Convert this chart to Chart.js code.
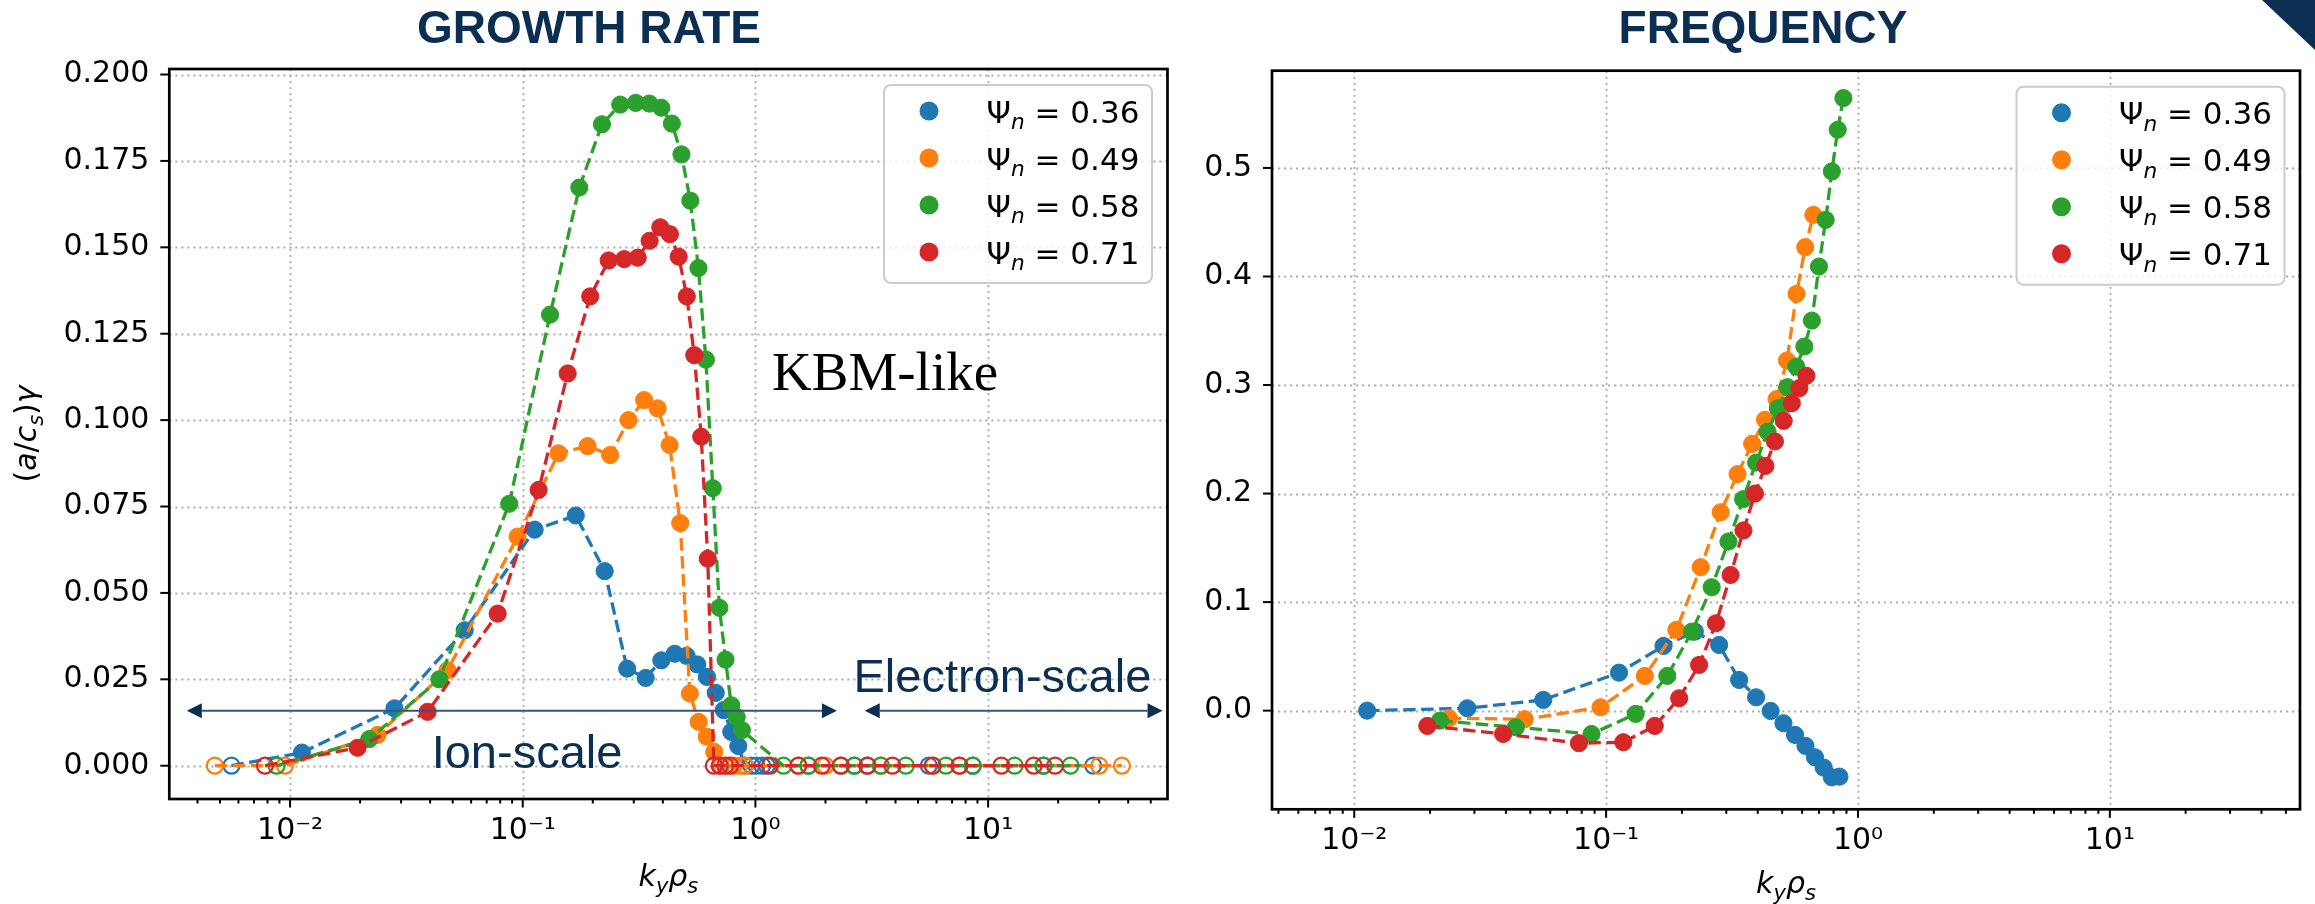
<!DOCTYPE html>
<html lang="en">
<head>
<meta charset="UTF-8" />
<title>Growth rate and frequency</title>
<script src="https://cdn.jsdelivr.net/npm/chart.js"></script>
<style>
  html, body { margin: 0; padding: 0; background: #fff; }
  body { width: 2315px; height: 904px; position: relative; overflow: hidden; }
  canvas { position: absolute; top: 0; }
  #growth { left: 0; }
  #freq { left: 1200px; }
  .ptitle {
    position: absolute; top: 4px; transform: translateX(-50%);
    font-family: "Liberation Sans", Arial, sans-serif; font-weight: bold;
    font-size: 46px; line-height: 46px; color: #0b2f52; white-space: nowrap;
  }
  #corner {
    position: absolute; top: 0; right: 0; width: 53px; height: 50px;
    background: #0b2f52; clip-path: polygon(0 0, 100% 0, 100% 100%);
  }
</style>
</head>
<body>
<canvas id="growth" width="1200" height="904"></canvas>
<canvas id="freq" width="1115" height="904"></canvas>
<div class="ptitle" style="left:589px">GROWTH RATE</div>
<div class="ptitle" style="left:1763px">FREQUENCY</div>
<div id="corner"></div>

<script>
  // ---- data ----
  const seriesLabels = ['0.36', '0.49', '0.58', '0.71'];
  const seriesColors = ['#1f77b4', '#ff7f0e', '#2ca02c', '#d62728'];

  // Psi_n = 0.36
  const ky036 = [0.01125, 0.0281, 0.0563, 0.1125, 0.169, 0.225, 0.281, 0.3375, 0.394, 0.45, 0.506, 0.5625, 0.619, 0.675, 0.731, 0.7875, 0.844];
  const gamma036 = [0.0038, 0.0166, 0.0392, 0.0683, 0.0724, 0.0563, 0.0281, 0.0254, 0.0305, 0.0324, 0.0318, 0.0293, 0.0257, 0.0211, 0.0161, 0.0098, 0.0057];
  const omega036 = [0.000, 0.0022, 0.0099, 0.035, 0.0596, 0.0728, 0.0605, 0.0283, 0.0123, -0.0003, -0.0116, -0.0224, -0.0325, -0.043, -0.0525, -0.0614, -0.0608];
  const kyStable036 = [0.0056, 0.9, 0.96, 1.01, 1.07, 1.12, 1.69, 2.66, 3.03, 5.56, 8.59, 17.3, 28.3];

  // Psi_n = 0.49
  const ky049 = [0.02375, 0.0475, 0.095, 0.1425, 0.19, 0.2375, 0.285, 0.3325, 0.38, 0.4275, 0.475, 0.5225, 0.57, 0.6175, 0.665];
  const gamma049 = [0.0089, 0.0276, 0.0663, 0.0904, 0.0925, 0.0899, 0.100, 0.1058, 0.1034, 0.0928, 0.0702, 0.0209, 0.0127, 0.0084, 0.0040];
  const omega049 = [-0.0070, -0.0079, 0.0031, 0.032, 0.0744, 0.1322, 0.1828, 0.218, 0.2458, 0.268, 0.287, 0.3226, 0.384, 0.427, 0.4568];
  const kyStable049 = [0.00475, 0.0095, 0.7125, 0.76, 0.8075, 0.855, 0.9025, 1.53, 2.0, 3.46, 5.78, 7.53, 30, 37.6];

  // Psi_n = 0.58
  const ky058 = [0.0219, 0.0438, 0.0875, 0.131, 0.175, 0.219, 0.2625, 0.306, 0.35, 0.394, 0.4375, 0.481, 0.525, 0.569, 0.6125, 0.656, 0.70, 0.744, 0.7875, 0.831, 0.875];
  const gamma058 = [0.0077, 0.025, 0.0758, 0.1305, 0.1673, 0.1856, 0.1913, 0.1918, 0.1916, 0.1904, 0.1858, 0.1769, 0.1635, 0.144, 0.1175, 0.0803, 0.0457, 0.0307, 0.0175, 0.0141, 0.0103];
  const omega058 = [-0.0092, -0.0153, -0.0215, -0.003, 0.032, 0.0728, 0.1137, 0.1558, 0.1948, 0.2286, 0.257, 0.2787, 0.298, 0.317, 0.3355, 0.3594, 0.4092, 0.4522, 0.4968, 0.5352, 0.5644];
  const kyStable058 = [0.00875, 1.32, 1.69, 2.33, 2.66, 3.46, 4.43, 6.59, 8.59, 13.0, 17.3, 22.6];

  // Psi_n = 0.71
  const ky071 = [0.0195, 0.039, 0.078, 0.117, 0.156, 0.195, 0.234, 0.273, 0.312, 0.351, 0.39, 0.429, 0.468, 0.507, 0.546, 0.585, 0.624];
  const gamma071 = [0.0052, 0.0156, 0.044, 0.0798, 0.1135, 0.1358, 0.1462, 0.1466, 0.147, 0.1519, 0.1558, 0.1538, 0.1473, 0.1358, 0.1188, 0.0952, 0.0599];
  const omega071 = [-0.0141, -0.0215, -0.030, -0.0291, -0.0141, 0.0114, 0.0421, 0.0805, 0.125, 0.166, 0.200, 0.2255, 0.248, 0.267, 0.2833, 0.2971, 0.3085];
  const kyStable071 = [0.0078, 0.663, 0.702, 0.741, 0.78, 1.155, 1.53, 1.93, 2.33, 3.03, 3.88, 5.78, 7.53, 11.4, 15.7, 19.4];

  const growthTicks = [0, 0.025, 0.05, 0.075, 0.1, 0.125, 0.15, 0.175, 0.2];
  const freqTicks = [0, 0.1, 0.2, 0.3, 0.4, 0.5];

  const kySets = [ky036, ky049, ky058, ky071];
  const gammaSets = [gamma036, gamma049, gamma058, gamma071];
  const omegaSets = [omega036, omega049, omega058, omega071];
  const stableSets = [kyStable036, kyStable049, kyStable058, kyStable071];

  // ---- helpers ----
  const SUP = { '-': '\u207B', '0': '\u2070', '1': '\u00B9', '2': '\u00B2', '3': '\u00B3' };
  function powLabel(v) {
    const e = Math.round(Math.log10(v));
    if (Math.abs(v - Math.pow(10, e)) / v > 1e-6) return '';
    return '10' + String(e).split('').map(c => SUP[c]).join('');
  }

  function logTicks(min, max) {
    const out = [];
    for (let d = -4; d <= 2; d++) {
      for (let m = 1; m <= 9; m++) {
        const v = m * Math.pow(10, d);
        if (v >= min && v <= max) out.push({ value: v, major: m === 1 });
      }
    }
    return out;
  }

  // draw a mathtext-like run of pieces: {t, i (italic), sub}
  function drawMath(ctx, parts, x, y, size, align) {
    const fnt = p => (p.i ? 'italic ' : '') + (p.sub ? size * 0.7 : size) + 'px "DejaVu Sans"';
    let w = 0;
    parts.forEach(p => { ctx.font = fnt(p); p.w = ctx.measureText(p.t).width; w += p.w; });
    let cx = align === 'center' ? x - w / 2 : x;
    ctx.textAlign = 'left';
    ctx.textBaseline = 'alphabetic';
    parts.forEach(p => {
      ctx.font = fnt(p);
      ctx.fillText(p.t, cx, y + (p.sub ? size * 0.22 : 0));
      cx += p.w;
    });
  }

  function arrow(ctx, x1, x2, y) {
    const hl = 15, hh = 7.5;
    ctx.strokeStyle = '#35577a';
    ctx.lineWidth = 2;
    ctx.beginPath(); ctx.moveTo(x1 + hl, y); ctx.lineTo(x2 - hl, y); ctx.stroke();
    ctx.fillStyle = '#0b2f52';
    ctx.beginPath(); ctx.moveTo(x1, y); ctx.lineTo(x1 + hl, y - hh); ctx.lineTo(x1 + hl, y + hh); ctx.closePath(); ctx.fill();
    ctx.beginPath(); ctx.moveTo(x2, y); ctx.lineTo(x2 - hl, y - hh); ctx.lineTo(x2 - hl, y + hh); ctx.closePath(); ctx.fill();
  }

  // grid, frame, ticks, legend drawn with the chart's own scales
  const axesDecor = {
    id: 'axesDecor',
    beforeDatasetsDraw(chart) {
      const { ctx, chartArea: a, scales: { x, y } } = chart;
      ctx.save();
      ctx.strokeStyle = '#b0b0b0';
      ctx.lineWidth = 1.8;
      ctx.setLineDash([2.2, 3.8]);
      x.ticks.filter(t => t.major).forEach(t => {
        const px = Math.round(x.getPixelForValue(t.value)) + 0.5;
        ctx.beginPath(); ctx.moveTo(px, a.top); ctx.lineTo(px, a.bottom); ctx.stroke();
      });
      y.ticks.forEach(t => {
        const py = Math.round(y.getPixelForValue(t.value)) + 0.5;
        ctx.beginPath(); ctx.moveTo(a.left, py); ctx.lineTo(a.right, py); ctx.stroke();
      });
      ctx.restore();
    },
    afterDatasetsDraw(chart, args, opts) {
      const { ctx, chartArea: a, scales: { x, y } } = chart;
      ctx.save();
      // tick marks
      ctx.strokeStyle = '#000';
      ctx.lineWidth = 2;
      x.ticks.forEach(t => {
        const px = x.getPixelForValue(t.value);
        const len = t.major ? 8.5 : 4.5;
        ctx.beginPath(); ctx.moveTo(px, a.bottom); ctx.lineTo(px, a.bottom + len); ctx.stroke();
      });
      y.ticks.forEach(t => {
        const py = y.getPixelForValue(t.value);
        ctx.beginPath(); ctx.moveTo(a.left, py); ctx.lineTo(a.left - 9, py); ctx.stroke();
      });
      // frame
      ctx.lineWidth = 2.7;
      ctx.strokeRect(a.left, a.top, a.right - a.left, a.bottom - a.top);

      // legend
      const w = 268, h = 198;
      const bx = a.right - 15.5 - w, by = a.top + 16;
      ctx.beginPath();
      ctx.roundRect(bx, by, w, h, 7);
      ctx.fillStyle = 'rgba(255,255,255,0.8)';
      ctx.fill();
      ctx.strokeStyle = '#cccccc';
      ctx.lineWidth = 2;
      ctx.stroke();
      seriesLabels.forEach((lab, i) => {
        const cy = by + 26 + i * 47;
        ctx.fillStyle = seriesColors[i];
        ctx.beginPath(); ctx.arc(bx + 45, cy, 9.5, 0, Math.PI * 2); ctx.fill();
        ctx.fillStyle = '#000';
        drawMath(ctx, [{ t: '\u03A8' }, { t: 'n', i: true, sub: true }, { t: ' = ' + lab }], bx + 102.5, cy + 11.5, 31, 'left');
      });

      // x axis label
      ctx.fillStyle = '#000';
      drawMath(ctx, [{ t: 'k', i: true }, { t: 'y', i: true, sub: true }, { t: '\u03C1', i: true }, { t: 's', i: true, sub: true }],
        (a.left + a.right) / 2, opts.xLabelY, 30, 'center');

      if (opts.ylabel) {
        ctx.save();
        ctx.translate(36, (a.top + a.bottom) / 2);
        ctx.rotate(-Math.PI / 2);
        drawMath(ctx, [{ t: '(' }, { t: 'a', i: true }, { t: '/' }, { t: 'c', i: true }, { t: 's', i: true, sub: true }, { t: ')' }, { t: '\u03B3', i: true }],
          0, 0, 30, 'center');
        ctx.restore();
      }

      if (opts.annotate) {
        const ya = y.getPixelForValue(0.0159);
        arrow(ctx, x.getPixelForValue(0.0036), x.getPixelForValue(2.24), ya);
        arrow(ctx, x.getPixelForValue(2.95), x.getPixelForValue(56.2), ya);
        ctx.fillStyle = '#0b2f52';
        ctx.font = '47px "Liberation Sans", Arial, sans-serif';
        ctx.textAlign = 'left';
        ctx.textBaseline = 'alphabetic';
        ctx.fillText('Ion-scale', x.getPixelForValue(0.0406), y.getPixelForValue(-0.0007));
        ctx.fillText('Electron-scale', x.getPixelForValue(2.64), y.getPixelForValue(0.0214));
        ctx.fillStyle = '#000';
        ctx.font = '55px "Liberation Serif", "Times New Roman", serif';
        ctx.fillText('KBM-like', x.getPixelForValue(1.178), y.getPixelForValue(0.1087));
      }
      ctx.restore();
    }
  };

  function isHollow(c, kind) {
    return kind === 'growth' && c.raw && c.raw.y === 0;
  }

  function makeDatasets(kind) {
    return seriesLabels.map((lab, i) => {
      const color = seriesColors[i];
      let pts = kySets[i].map((k, j) => ({ x: k, y: kind === 'growth' ? gammaSets[i][j] : omegaSets[i][j] }));
      if (kind === 'growth') {
        pts = pts.concat(stableSets[i].map(k => ({ x: k, y: 0 }))).sort((p, q) => p.x - q.x);
      }
      return {
        label: '\u03A8n = ' + lab,
        data: pts,
        order: 3 - i,
        borderColor: color,
        borderWidth: 3.3,
        borderDash: [12.5, 5.5],
        tension: 0,
        fill: false,
        pointRadius: c => (isHollow(c, kind) ? 8 : 8.6),
        pointBorderWidth: c => (isHollow(c, kind) ? 2.2 : 1),
        pointBorderColor: color,
        pointBackgroundColor: c => (isHollow(c, kind) ? 'rgba(255,255,255,0)' : color)
      };
    });
  }

  function makeChart(id, cfg) {
    return new Chart(document.getElementById(id), {
      type: 'line',
      data: { datasets: makeDatasets(cfg.kind) },
      plugins: [axesDecor],
      options: {
        responsive: false,
        animation: false,
        devicePixelRatio: 1,
        events: [],
        layout: { padding: { left: 0, top: cfg.top, right: cfg.right, bottom: 0 } },
        plugins: {
          legend: { display: false },
          tooltip: { enabled: false },
          axesDecor: { xLabelY: cfg.xLabelY, ylabel: cfg.ylabel, annotate: cfg.annotate }
        },
        scales: {
          x: {
            type: 'logarithmic',
            min: cfg.xmin, max: cfg.xmax,
            afterBuildTicks: s => { s.ticks = logTicks(s.min, s.max); },
            afterFit: s => { s.height = cfg.xh; },
            grid: { display: false, drawTicks: false },
            border: { display: false },
            ticks: {
              autoSkip: false, maxRotation: 0, minRotation: 0, padding: 14, color: '#000',
              font: { family: 'DejaVu Sans', size: 30 },
              callback: v => powLabel(v)
            }
          },
          y: {
            type: 'linear',
            min: cfg.ymin, max: cfg.ymax,
            afterBuildTicks: s => { s.ticks = cfg.yticks.map(v => ({ value: v })); },
            afterFit: s => { s.width = cfg.yw; },
            grid: { display: false, drawTicks: false },
            border: { display: false },
            ticks: {
              padding: 20, color: '#000',
              font: { family: 'DejaVu Sans', size: 30 },
              callback: v => Number(v).toFixed(cfg.dec)
            }
          }
        }
      }
    });
  }

  makeChart('growth', {
    kind: 'growth', top: 69, right: 32.5, xh: 105, yw: 169.3,
    xmin: Math.pow(10, -2.519), xmax: Math.pow(10, 1.771),
    ymin: -0.00963, ymax: 0.2016, yticks: growthTicks, dec: 3,
    xLabelY: 886, ylabel: true, annotate: true
  });

  makeChart('freq', {
    kind: 'freq', top: 70.7, right: 15, xh: 94.7, yw: 72,
    xmin: Math.pow(10, -2.3266), xmax: Math.pow(10, 1.755),
    ymin: -0.0909, ymax: 0.5896, yticks: freqTicks, dec: 1,
    xLabelY: 893, ylabel: false, annotate: false
  });
</script>
</body>
</html>
